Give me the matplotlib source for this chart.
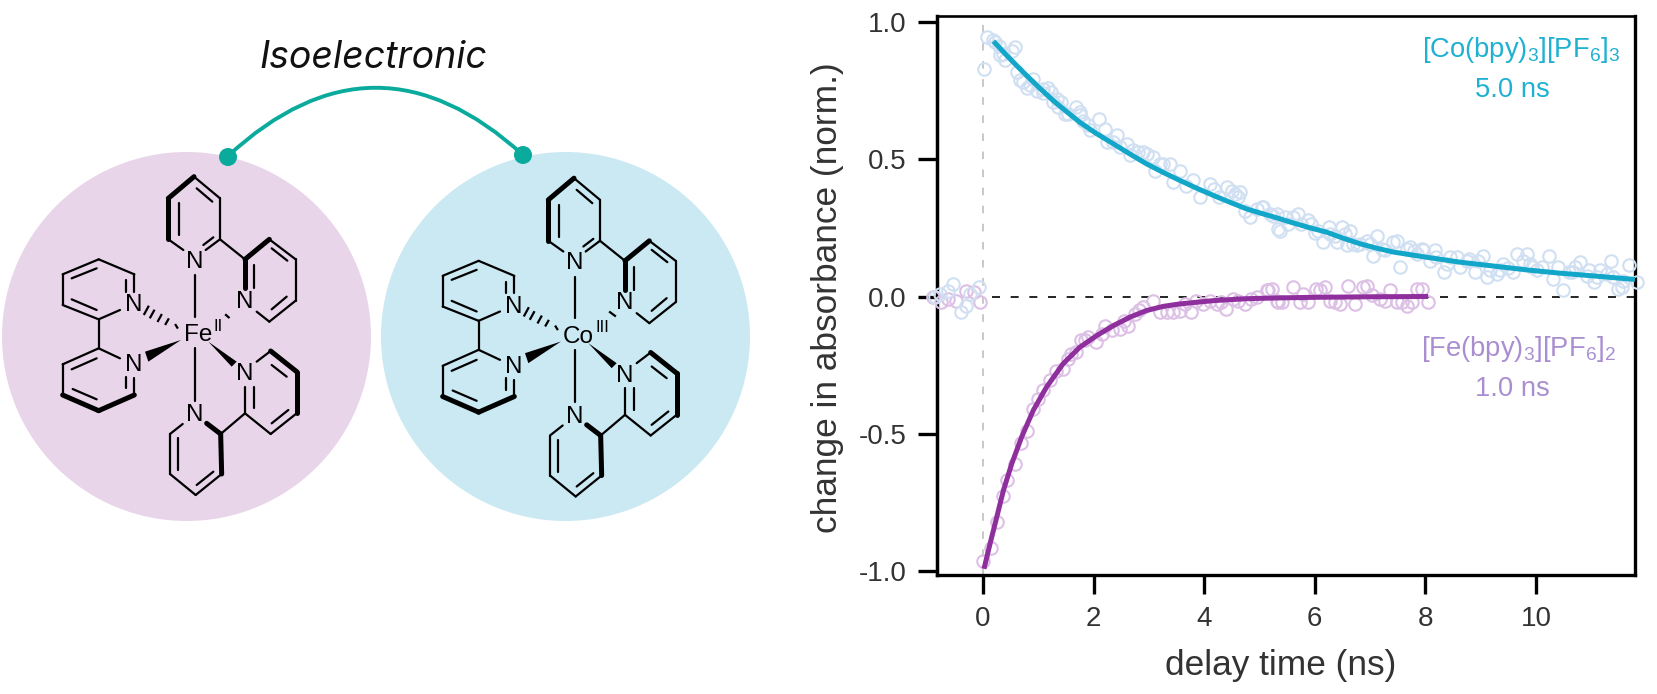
import matplotlib
matplotlib.use("Agg")
import matplotlib.pyplot as plt
from matplotlib.patches import Circle, PathPatch, Polygon
from matplotlib.path import Path

plt.rcParams['font.family'] = ['Liberation Sans', 'DejaVu Sans']
plt.rcParams['mathtext.fontset'] = 'custom'
plt.rcParams['mathtext.rm'] = 'Liberation Sans'
plt.rcParams['mathtext.default'] = 'regular'

# ---------- decay data ----------
co_x = [-0.87,-0.78,-0.63,-0.54,-0.39,-0.31,-0.24,-0.07,0.02,0.08,0.19,0.30,0.31,0.40,0.52,0.58,0.61,0.73,0.79,0.85,0.91,0.97,
        1.08,1.18,1.24,1.27,1.34,1.42,1.54,1.69,1.75,1.81,1.93,2.09,2.21,2.24,2.43,2.48,2.60,2.66,2.81,2.96,3.08,3.11,3.26,3.38,
        3.44,3.56,3.68,3.80,3.92,4.10,4.26,4.41,4.50,4.56,4.65,4.74,4.83,5.04,5.07,5.19,5.25,5.34,5.37,5.52,5.70,5.76,5.94,6.00,
        6.15,6.25,6.40,6.49,6.58,6.64,6.76,6.94,7.06,7.12,7.27,7.42,7.54,7.66,7.80,7.93,8.08,8.17,8.33,8.45,8.63,8.78,8.90,9.05,
        9.11,9.29,9.41,9.50,9.59,9.65,9.83,9.90,10.01,10.24,10.31,10.40,10.48,10.65,10.80,10.92,11.04,11.16,11.35,11.49,11.58,11.69,11.82,
        5.31,5.46,5.61,5.88,6.06,6.28,6.37,6.55,6.70,6.82,7.00,7.21,7.48,7.72,7.84,7.96,8.20,8.39,8.57,8.75,8.96,9.17,9.35,9.77,9.92,10.10,
        10.59,10.71,10.95,11.10,11.28,11.40,11.55,0.22,0.36,0.67,1.09,1.36,1.48,1.75,1.90,2.36,2.72,2.90,3.20,4.17,4.62,4.95]
co_y = [0.00,0.01,0.02,0.044,-0.057,-0.033,0.01,0.036,0.829,0.945,0.935,0.914,0.878,0.86,0.896,0.908,0.817,0.781,0.76,0.769,0.793,0.75,
        0.742,0.76,0.744,0.708,0.72,0.708,0.665,0.692,0.66,0.641,0.605,0.647,0.611,0.562,0.587,0.544,0.556,0.514,0.526,0.52,0.508,0.459,0.483,0.483,
        0.417,0.459,0.404,0.423,0.362,0.41,0.362,0.398,0.385,0.374,0.38,0.313,0.289,0.325,0.325,0.301,0.295,0.247,0.24,0.265,0.30,0.265,0.265,0.23,
        0.198,0.253,0.198,0.253,0.186,0.24,0.186,0.204,0.149,0.222,0.168,0.198,0.107,0.174,0.165,0.174,0.131,0.168,0.089,0.143,0.107,0.137,0.089,0.149,
        0.07,0.083,0.119,0.105,0.089,0.155,0.155,0.12,0.095,0.149,0.064,0.107,0.022,0.09,0.125,0.075,0.052,0.095,0.131,0.028,0.058,0.113,0.052,
        0.301,0.289,0.289,0.277,0.24,0.228,0.222,0.228,0.192,0.192,0.192,0.174,0.204,0.18,0.155,0.168,0.143,0.119,0.143,0.131,0.131,0.095,0.095,0.131,0.107,0.107,
        0.089,0.107,0.095,0.07,0.083,0.07,0.033,0.927,0.884,0.787,0.757,0.69,0.665,0.672,0.623,0.562,0.532,0.526,0.483,0.392,0.362,0.319]
fe_x = [-0.90,-0.75,-0.63,-0.48,-0.31,-0.17,-0.05,-0.006,0.145,0.25,0.37,0.43,0.58,0.68,0.79,0.90,1.00,1.09,1.21,1.33,1.45,1.54,1.69,1.78,1.90,2.04,
        2.15,2.21,2.33,2.48,2.63,2.75,2.90,3.08,3.20,3.32,3.44,3.56,3.65,3.76,3.86,3.98,4.10,4.23,4.40,4.53,4.74,4.95,5.16,5.22,5.34,5.40,5.61,5.73,
        5.88,6.03,6.19,6.28,6.46,6.61,6.73,6.88,7.03,7.18,7.36,7.48,7.66,7.84,7.93,8.04,
        5.13,5.31,5.79,6.09,6.37,6.94,7.27,7.57,7.75,4.30,4.62,4.85,2.55,2.82,1.60,1.85]
fe_y = [0.00,-0.02,-0.01,-0.015,0.02,0.015,-0.02,-0.964,-0.916,-0.822,-0.725,-0.67,-0.61,-0.534,-0.49,-0.41,-0.373,-0.342,-0.306,-0.27,-0.264,-0.227,-0.203,-0.158,-0.146,-0.166,
        -0.136,-0.106,-0.121,-0.118,-0.106,-0.063,-0.039,-0.015,-0.057,-0.057,-0.057,-0.051,-0.027,-0.057,-0.015,-0.027,-0.015,-0.027,-0.045,-0.008,-0.027,-0.002,0.022,0.028,-0.02,-0.021,0.034,-0.021,
        -0.021,0.028,0.034,-0.015,-0.027,0.04,-0.027,0.034,0.004,-0.008,0.022,-0.021,-0.033,0.028,0.028,-0.021,
        0.022,-0.015,0.01,0.022,-0.021,0.04,-0.015,-0.021,-0.021,-0.02,-0.015,-0.01,-0.09,-0.05,-0.21,-0.16]
co_fit_x = [0.19,0.46,0.73,1.00,1.27,1.51,1.75,2.05,2.36,2.66,2.96,3.26,3.56,3.86,4.17,4.47,4.77,5.05,5.34,5.61,5.92,6.22,6.52,6.82,7.12,7.42,8.02,8.63,9.23,9.83,10.43,11.04,11.79]
co_fit_y = [0.93,0.872,0.817,0.764,0.714,0.674,0.635,0.594,0.556,0.519,0.483,0.452,0.423,0.395,0.368,0.343,0.319,0.302,0.285,0.268,0.25,0.234,0.212,0.192,0.176,0.162,0.143,0.125,0.111,0.097,0.085,0.075,0.062]
fe_fit_x = [0.02,0.13,0.25,0.37,0.52,0.70,0.91,1.15,1.45,1.75,2.06,2.36,2.66,2.96,3.26,3.56,4.17,4.77,5.37,6.0,7.0,8.05]
fe_fit_y = [-0.992,-0.90,-0.804,-0.707,-0.61,-0.512,-0.415,-0.33,-0.245,-0.185,-0.142,-0.106,-0.075,-0.051,-0.036,-0.027,-0.015,-0.008,-0.005,-0.003,-0.001,0.0]
x_ticks = [0, 2, 4, 6, 8, 10]
y_ticks = [-1.0, -0.5, 0.0, 0.5, 1.0]
y_tick_labels = ['-1.0', '-0.5', '0.0', '0.5', '1.0']

# ---------- scheme geometry (molecule drawn in units of 1/3 px) ----------
thin_bonds = [((582,440),(660,505)),((590,475),(637,515)),((660,505),(660,628)),((660,628),(617,660)),((640,622),(610,645)),
              ((505,628),(550,660)),((537,520),(537,615)),((660,628),(735,688)),((808,628),(887,688)),((815,655),(862,692)),
              ((887,688),(887,812)),((887,812),(808,875)),((860,800),(815,838)),((808,875),(770,845)),((763,705),(763,775)),
              ((585,735),(585,860)),((188,733),(296,688)),((215,745),(290,715)),((188,733),(188,825)),((188,825),(296,868)),
              ((215,808),(290,840)),((296,868),(360,840)),((403,733),(296,688)),((403,733),(403,785)),((378,750),(378,785)),
              ((296,868),(296,955)),((296,955),(188,1003)),((215,1018),(290,985)),((188,1003),(188,1095)),((218,1077),(290,1108)),
              ((403,1095),(403,1045)),((378,1075),(378,1040)),((296,955),(360,985)),((770,995),(812,963)),((815,1005),(860,1040)),
              ((890,1150),(812,1212)),((865,1140),(815,1180)),((812,1212),(735,1150)),((735,1150),(735,1070)),((762,1135),(762,1070)),
              ((735,1150),(662,1212)),((665,1332),(587,1395)),((640,1325),(590,1365)),((587,1395),(510,1332)),((510,1332),(510,1212)),
              ((533,1320),(533,1225)),((510,1212),(548,1182)),((585,955),(585,1112))]
thick_bonds = [((505,505),(582,440)),((505,505),(505,628)),((735,688),(808,628)),((735,688),(735,775)),((188,1095),(296,1142)),
               ((296,1142),(403,1095)),((812,963),(890,1025)),((890,1025),(890,1150)),((662,1212),(620,1180)),((662,1212),(665,1332))]
solid_wedges = [[(543,930),(435,965),(445,995)], [(625,935),(710,995),(695,1010)]]
hash_left = [((527,885),(532,893)),((505,868),(497,882)),((484,855),(474,873)),((462,842),(451,862)),((445,830),(433,852))]
n_labels = [(585,695),(735,815),(400,825),(400,1005),(735,1032),(585,1155)]

fig = plt.figure(figsize=(16.58, 6.94), dpi=100, facecolor='white')
bg = fig.add_axes([0, 0, 1, 1])
bg.set_xlim(0, 1658); bg.set_ylim(694, 0); bg.axis('off')

for cx, col in [(186.5, '#e8d5e9'), (565.5, '#cbe9f3')]:
    bg.add_patch(Circle((cx, 336.5), 184.5, fc=col, ec='none'))

bg.add_patch(PathPatch(Path([(228, 156), (375, 20), (523, 155)], [Path.MOVETO, Path.CURVE3, Path.CURVE3]),
                       fc='none', ec='#0aab9c', lw=2.8))
for x, y in [(228, 157), (523, 155)]:
    bg.add_patch(Circle((x, y), 9, fc='#0aab9c', ec='none'))
bg.text(373.5, 68, 'Isoelectronic', family='Inter', style='italic', fontsize=27, ha='center', va='baseline', color='#111111')

def mol(dx, dy, metal, sup, supx, right_hash):
    T = lambda p: (p[0]/3 + dx, p[1]/3 + dy)
    for a, b in thin_bonds:
        (x0, y0), (x1, y1) = T(a), T(b)
        bg.plot([x0, x1], [y0, y1], color='black', lw=1.6, solid_capstyle='round')
    for a, b in thick_bonds:
        (x0, y0), (x1, y1) = T(a), T(b)
        bg.plot([x0, x1], [y0, y1], color='black', lw=3.6, solid_capstyle='round')
    for w in solid_wedges:
        bg.add_patch(Polygon([T(p) for p in w], fc='black', ec='none'))
    for a, b in hash_left + right_hash:
        (x0, y0), (x1, y1) = T(a), T(b)
        bg.plot([x0, x1], [y0, y1], color='black', lw=1.6)
    for p in n_labels:
        x, y = T(p)
        bg.text(x, y, 'N', fontsize=17.5, ha='center', va='center', color='black')
    x, y = T((594, 915))
    bg.text(x, y, metal, fontsize=17.5, ha='center', va='center', color='black')
    x, y = T((supx, 888))
    bg.text(x, y, sup, fontsize=12, ha='center', va='center', color='black')

mol(0, 30, 'Fe', 'II', 655, [((678,855),(686,862))])
mol(380, 31.5, 'Co', 'III', 668, [((690,842),(705,853))])

# ---------- chart ----------
L, R, T_, B = 937, 1635, 16, 575
ax = fig.add_axes([L/1658, 1-B/694, (R-L)/1658, (B-T_)/694], facecolor='none')
ax.set_xlim(-0.83, 11.79)
ax.set_ylim(-1.0146, 1.0219)

ax.plot([0, 0], [-1.0146, 1.0219], color='#c8c8c8', lw=1.4, dashes=(3.9, 5.4), zorder=1)
ax.plot([0.16, 11.79], [0, 0], color='black', lw=1.2, dashes=(4.8, 6.4), zorder=1)
ax.plot(fe_x, fe_y, ls='none', marker='o', ms=9.0, mfc='none', mec='#dcc0e5', mew=1.5, clip_on=False, zorder=3)
ax.plot(co_x, co_y, ls='none', marker='o', ms=9.0, mfc='none', mec='#d0e0f2', mew=1.5, clip_on=False, zorder=3)
ax.plot(co_fit_x, co_fit_y, color='#12a6c9', lw=3.6, zorder=4, solid_capstyle='butt', solid_joinstyle='round')
ax.plot(fe_fit_x, fe_fit_y, color='#8f2f9d', lw=3.6, zorder=4, solid_capstyle='butt', solid_joinstyle='round')

for s, w in [('left', 2.5), ('bottom', 2.4), ('top', 1.9), ('right', 2.4)]:
    ax.spines[s].set_linewidth(w)
ax.set_xticks(x_ticks)
ax.set_yticks(y_ticks)
ax.set_yticklabels(y_tick_labels)
ax.tick_params(axis='both', length=14, width=2.4, labelsize=20, color='black', labelcolor='#333333')
ax.tick_params(axis='y', pad=8)
ax.tick_params(axis='x', pad=8)
ax.set_xlabel('delay time (ns)', fontsize=25.4, color='#333333', va='center')
ax.set_ylabel('change in absorbance (norm.)', fontsize=25.4, color='#333333', va='center')
ax.xaxis.set_label_coords(1281, 666, transform=bg.transData)
ax.yaxis.set_label_coords(828, 298, transform=bg.transData)

bg.text(1521, 50, '[Co(bpy)$_3$][PF$_6$]$_3$', fontsize=19.7, ha='center', va='center', color='#1fb0d2')
bg.text(1512, 90, '5.0 ns', fontsize=19.7, ha='center', va='center', color='#1fb0d2')
bg.text(1519, 349, '[Fe(bpy)$_3$][PF$_6$]$_2$', fontsize=19.7, ha='center', va='center', color='#a98fd0')
bg.text(1512, 389, '1.0 ns', fontsize=19.7, ha='center', va='center', color='#a98fd0')

fig.savefig('out.png', dpi=100)
